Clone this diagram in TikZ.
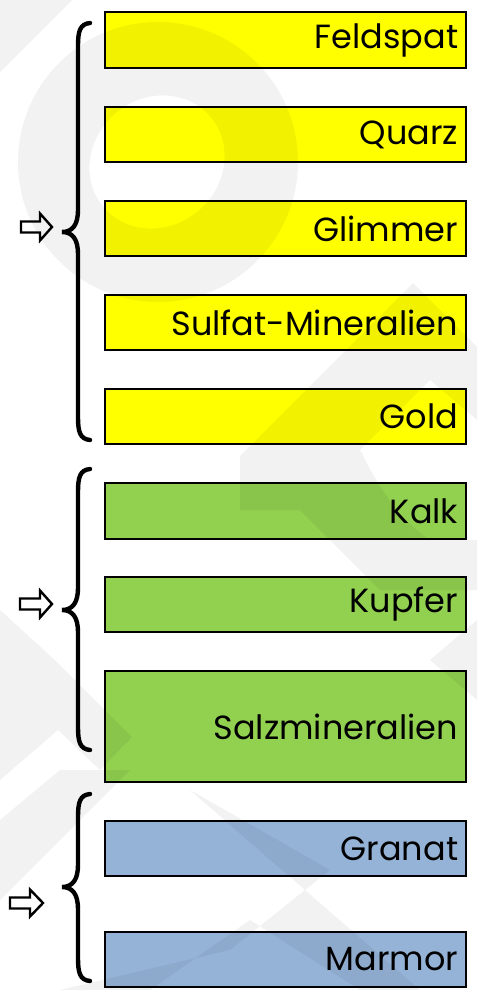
\documentclass[tikz,border=0pt]{standalone}
\usepackage{fontspec}
\setmainfont{Poppins}
\begin{document}
\begin{tikzpicture}[x=1pt,y=-1pt,
  box/.style={draw=black, line width=2.4pt, fill=#1, minimum width=361pt,
    text width=345pt, align=right, inner xsep=8pt, inner ysep=0pt,
    font=\fontsize{33.5}{33.5}\selectfont, anchor=west},
  brace/.style={line width=4.4pt, line cap=round},
  pointer/.style={draw=black, fill=white, line width=2.4pt, line join=miter},
  wm/.style={fill=black, opacity=0.05}
]
\definecolor{boxyellow}{HTML}{FFFF00}
\definecolor{boxgreen}{HTML}{92D050}
\definecolor{boxblue}{HTML}{95B3D7}

\useasboundingbox (0,0) rectangle (477,990);
\fill[white] (0,0) rectangle (477,990);

% first group
\node[box=boxyellow, minimum height=56pt] (feld) at (104,40)  {Feldspat};
\node[box=boxyellow, minimum height=55pt] (quarz) at (104,134.5) {Quarz};
\node[box=boxyellow, minimum height=55pt] (glim) at (104,228.5) {Glimmer};
\node[box=boxyellow, minimum height=55pt] (sulf) at (104,322.5) {Sulfat-Mineralien};
\node[box=boxyellow, minimum height=55pt] (gold) at (104,416.5) {Gold};

% second group
\node[box=boxgreen, minimum height=56pt] (kalk) at (104,511) {Kalk};
\node[box=boxgreen, minimum height=55pt] (kupf) at (104,604.5) {Kupfer};
\node[box=boxgreen, minimum height=111pt] (salz) at (104,726.5) {Salzmineralien};

% third group
\node[box=boxblue, minimum height=55pt] (gran) at (104,848.5) {Granat};
\node[box=boxblue, minimum height=55pt] (marm) at (104,959.5) {Marmor};

% curly braces
\draw[brace] (90,23) .. controls +(-10,1) and +(0,-15) .. (78,46) -- (78,210)
  .. controls +(0,14) and +(11,0) .. (62,232)
  .. controls +(11,0) and +(0,-14) .. (78,254) -- (78,417)
  .. controls +(0,15) and +(-10,-1) .. (90,440);
\draw[brace] (90,469) .. controls +(-10,1) and +(0,-15) .. (78,492) -- (78,588)
  .. controls +(0,14) and +(11,0) .. (62,610)
  .. controls +(11,0) and +(0,-14) .. (78,632) -- (78,727)
  .. controls +(0,15) and +(-10,-1) .. (90,750);
\draw[brace] (90,794) .. controls +(-10,1) and +(0,-15) .. (78,817) -- (78,865)
  .. controls +(0,14) and +(11,0) .. (62,887)
  .. controls +(11,0) and +(0,-14) .. (78,909) -- (78,958)
  .. controls +(0,15) and +(-10,-1) .. (90,981);

% hollow pointers
\draw[pointer] (21,221.5) -- (40,221.5) -- (40,213.5) -- (52,227) -- (40,240.5) -- (40,232.5) -- (21,232.5) -- cycle;
\draw[pointer] (20,598.5) -- (40,598.5) -- (40,590.5) -- (52,604) -- (40,617.5) -- (40,609.5) -- (20,609.5) -- cycle;
\draw[pointer] (10,897.5) -- (30,897.5) -- (30,889.5) -- (43,903) -- (30,916.5) -- (30,908.5) -- (10,908.5) -- cycle;

% faint logo shapes in the background
\fill[wm] (0,0) -- (72,0) -- (0,72) -- cycle;
\fill[wm, even odd rule] (158,162) circle (140)
  [rotate around={40:(157,162)}] (157,162) ellipse (70 and 64);
\fill[wm] (413,283) -- (477,347) -- (477,420) -- (430,380) -- (300,510) -- (240,510) -- (240,456) -- cycle;
\fill[wm] (360,450) -- (300,510) -- (380,590) -- (477,590) -- (477,540) -- (430,540) .. controls (400,520) and (380,490) .. (360,450) -- cycle;
\fill[wm] (0,610) -- (58,663) -- (132,737) -- (100,770) -- (58,730) -- (0,780) -- cycle;
\fill[wm] (0,820) -- (60,770) -- (130,770) -- (0,900) -- cycle;
\fill[wm] (190,790) -- (330,870) -- (230,950) -- (60,990) -- (150,990) -- (250,920) -- (360,990) -- (420,990) -- cycle;
\fill[wm] (477,620) -- (430,660) -- (477,700) -- cycle;
\end{tikzpicture}
\end{document}
